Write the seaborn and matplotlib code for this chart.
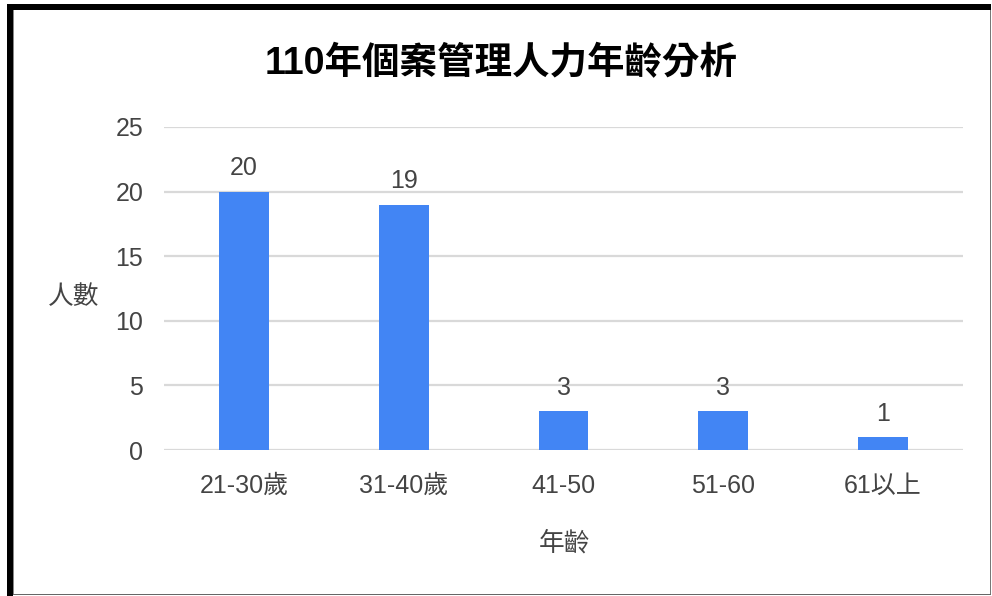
import matplotlib
matplotlib.use("Agg")
import matplotlib.pyplot as plt
from matplotlib.patches import Rectangle
import seaborn as sns
import pandas as pd

age_groups = ["21-30歲", "31-40歲", "41-50", "51-60", "61以上"]
headcount = [20, 19, 3, 3, 1]
y_ticks = [0, 5, 10, 15, 20, 25]

title = "110年個案管理人力年齡分析"
x_label = "年齡"
y_label = "人數"

sns.set_style("white")
plt.rcParams["font.family"] = ["Liberation Sans", "Noto Sans CJK TC", "DejaVu Sans"]

W, H = 992, 596
fig = plt.figure(figsize=(W / 100, H / 100), dpi=100)
ax = fig.add_axes([164 / W, 1 - 450 / H, (963 - 164) / W, (450 - 127) / H])

df = pd.DataFrame({"group": age_groups, "count": headcount})
sns.barplot(data=df, x="group", y="count", color="#4285F4", saturation=1,
            width=0.3125, linewidth=0, ax=ax, zorder=3)

ax.set_xlim(-0.5, len(age_groups) - 0.5)
ax.set_ylim(0, 25)
ax.set_yticks(y_ticks)
ax.yaxis.grid(True, color="#d9d9d9", linewidth=1.6, zorder=0)
ax.set_axisbelow(True)
for s in ax.spines.values():
    s.set_visible(False)
ax.tick_params(axis="both", length=0, labelsize=18, labelcolor="#444444")
ax.tick_params(axis="x", pad=17)
ax.tick_params(axis="y", pad=15)
ax.set_xlabel("")
ax.set_ylabel("")

for i, v in enumerate(headcount):
    ax.annotate(str(v), (i, v), xytext=(0, 8), textcoords="offset points",
                ha="center", va="bottom", fontsize=18, color="#444444")

fig.text(501 / W, 1 - 64 / H, title, ha="center", va="center",
         fontsize=27, fontweight="bold", color="black")
fig.text(565 / W, 1 - 543 / H, x_label, ha="center", va="center",
         fontsize=18.5, color="#444444")
fig.text(74 / W, 1 - 297 / H, y_label, ha="center", va="center",
         fontsize=18.5, color="#444444")

# frame around the chart (screenshot border)
def px_rect(x0, y0, x1, y1, color):
    fig.add_artist(Rectangle((x0 / W, 1 - y1 / H), (x1 - x0) / W, (y1 - y0) / H,
                             transform=fig.transFigure, color=color, lw=0))

px_rect(7, 4, 13, H, "black")
px_rect(7, 4, 991, 10, "black")
px_rect(13, 10, 14, 594, "#888888")
px_rect(989.5, 10, 991, 595, "#777777")
px_rect(13, 593.5, 991, 595, "#666666")

fig.savefig("out.png", dpi=100)
